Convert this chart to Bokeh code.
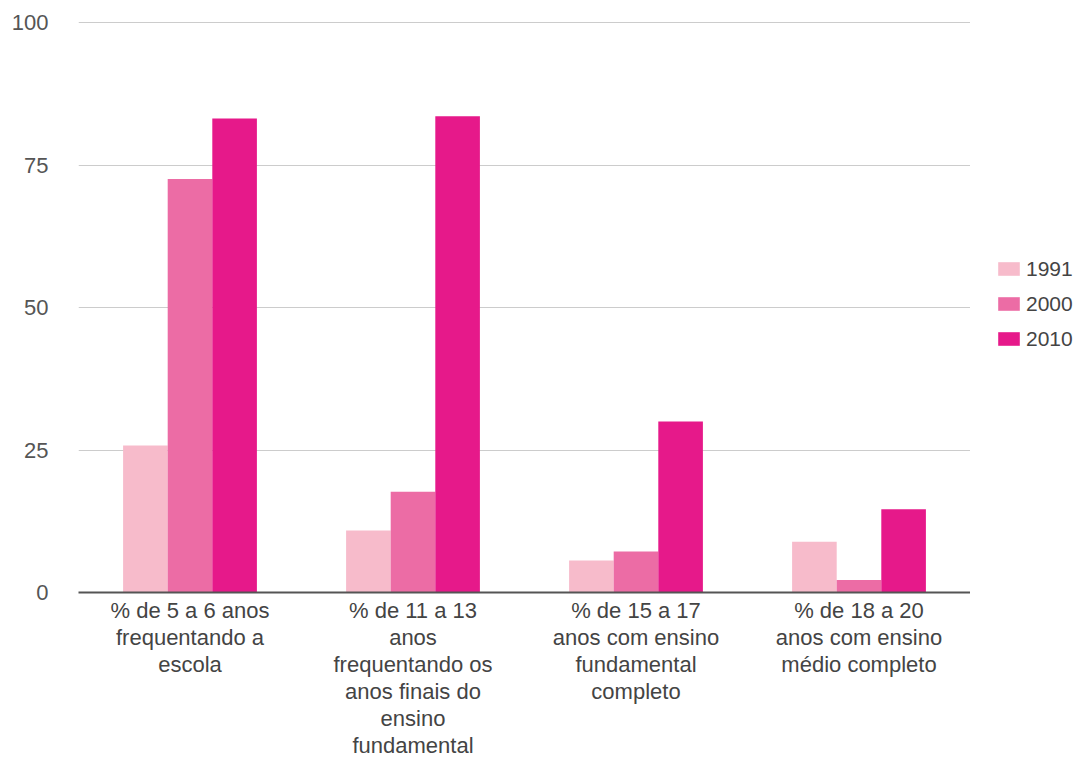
from bokeh.plotting import figure
from bokeh.models import FactorRange, ColumnDataSource, Legend, LegendItem, FixedTicker
from bokeh.layouts import row
from bokeh.transform import dodge
from bokeh.embed import file_html
from bokeh.resources import INLINE

# Indicadores educacionais por ano
categories = [
    "% de 5 a 6 anos\nfrequentando a\nescola",
    "% de 11 a 13\nanos\nfrequentando os\nanos finais do\nensino\nfundamental",
    "% de 15 a 17\nanos com ensino\nfundamental\ncompleto",
    "% de 18 a 20\nanos com ensino\nmédio completo",
]
years = ["1991", "2000", "2010"]
values_1991 = [25.8, 10.9, 5.6, 8.9]
values_2000 = [72.6, 17.7, 7.2, 2.2]
values_2010 = [83.2, 83.6, 30.0, 14.6]
y_ticks = [0, 25, 50, 75, 100]

colors = ["#F7BBCB", "#EC6CA5", "#E6198A"]
FONT = "Liberation Sans"
TEXT = "#444444"

source = ColumnDataSource(data=dict(
    cat=categories, y1991=values_1991, y2000=values_2000, y2010=values_2010,
))

p = figure(
    x_range=FactorRange(factors=categories, range_padding=0),
    y_range=(0, 100.4),
    width=970, height=760,
    output_backend="svg", toolbar_location=None,
    min_border_left=78, min_border_right=0,
    min_border_top=20, min_border_bottom=167,
)

bar_w = 0.2
for col, off, c in zip(["y1991", "y2000", "y2010"], [-0.2, 0.0, 0.2], colors):
    p.vbar(x=dodge("cat", off, range=p.x_range), top=col, width=bar_w,
           source=source, fill_color=c, line_color=None)

p.outline_line_color = None
p.background_fill_color = "white"
p.border_fill_color = "white"

p.xgrid.grid_line_color = None
p.ygrid.grid_line_color = "#CCCCCC"
p.ygrid.grid_line_width = 1
p.ygrid.ticker = FixedTicker(ticks=y_ticks)

p.yaxis.ticker = FixedTicker(ticks=y_ticks)
p.yaxis.axis_line_color = None
p.yaxis.major_tick_line_color = None
p.yaxis.minor_tick_line_color = None
p.yaxis.major_label_standoff = 24
p.yaxis.major_label_text_font = FONT
p.yaxis.major_label_text_font_size = "22px"
p.yaxis.major_label_text_color = "#555555"

p.xaxis.axis_line_color = "#555555"
p.xaxis.axis_line_width = 2
p.xaxis.major_tick_line_color = None
p.xaxis.minor_tick_line_color = None
p.xaxis.major_tick_out = 0
p.xaxis.major_label_standoff = 5
p.xaxis.major_label_text_font = FONT
p.xaxis.major_label_text_font_size = "22px"
p.xaxis.major_label_text_line_height = 1.08
p.xaxis.major_label_text_color = TEXT

# Side panel holding the year legend
lg = figure(
    width=119, height=760,
    output_backend="svg", toolbar_location=None,
    x_axis_type=None, y_axis_type=None,
    min_border=0,
)
lg.outline_line_color = None
lg.background_fill_color = "white"
lg.border_fill_color = "white"

# zero-height bars: they only lend their fill colour to the legend swatches
swatches = [lg.vbar(x=[0], top=[0], width=0, fill_color=c, line_color=None) for c in colors]

legend = Legend(
    items=[LegendItem(label=y, renderers=[r]) for y, r in zip(years, swatches)],
    location=(25, 241),
    glyph_width=27, glyph_height=17, label_height=25, spacing=10,
    padding=0, margin=0, label_standoff=4,
    border_line_color=None, background_fill_alpha=0,
    label_text_font=FONT, label_text_font_size="21px", label_text_color=TEXT,
)
lg.add_layout(legend)

layout = row(p, lg)

open("out.html", "w").write(file_html(layout, INLINE))
